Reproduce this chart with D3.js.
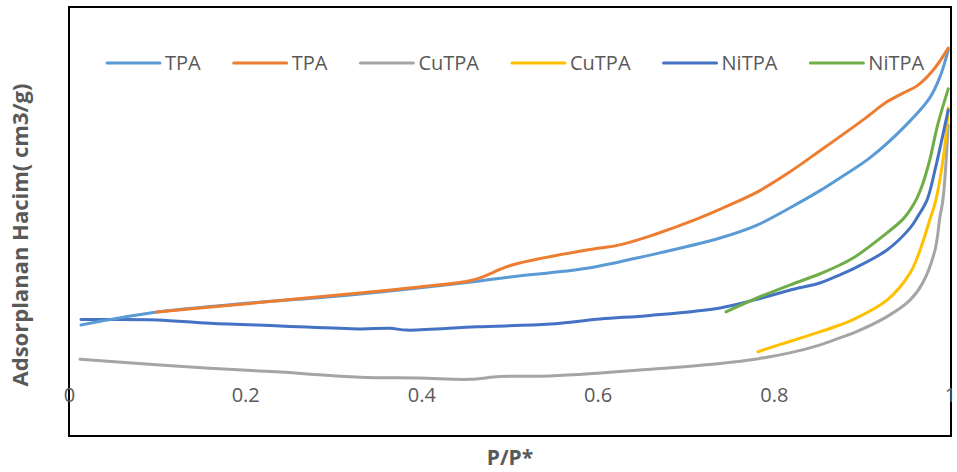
<!DOCTYPE html>
<html>
<head>
<meta charset="utf-8">
<script src="https://cdn.jsdelivr.net/npm/d3@7"></script>
<style>
  html, body { margin: 0; padding: 0; background: #fff; }
  svg { display: block; }
</style>
</head>
<body>
<svg id="chart" width="957" height="472"></svg>
<script>
// ---- Data ----
const seriesNames = ["TPA", "TPA", "CuTPA", "CuTPA", "NiTPA", "NiTPA"];
const seriesColors = ["#5B9BD5", "#ED7D31", "#A5A5A5", "#FFC000", "#4472C4", "#70AD47"];

// TPA (adsorption branch)
const tpaAdsP = [0.0136, 0.0999, 0.2054, 0.319, 0.4586, 0.503, 0.588, 0.6595, 0.739, 0.781, 0.818, 0.852, 0.875, 0.909, 0.947, 0.977, 0.989, 0.998];
const tpaAdsV = [25.0, 29.3, 32.3, 35.0, 39.4, 41.1, 43.9, 48.3, 54.0, 58.3, 64.0, 69.7, 74.0, 80.7, 90.7, 100.7, 108.0, 116.7];
// TPA (desorption branch)
const tpaDesP = [0.0999, 0.2054, 0.330, 0.398, 0.4586, 0.503, 0.588, 0.625, 0.663, 0.716, 0.742, 0.781, 0.818, 0.852, 0.901, 0.928, 0.9467, 0.9625, 0.981, 0.998];
const tpaDesV = [29.3, 32.2, 35.7, 37.7, 40.0, 45.0, 50.0, 51.7, 55.0, 60.7, 64.0, 69.3, 76.0, 83.0, 93.3, 99.3, 102.3, 104.7, 110.0, 117.3];
// CuTPA (adsorption branch)
const cuAdsP = [0.0125, 0.1033, 0.160, 0.2395, 0.330, 0.398, 0.455, 0.489, 0.546, 0.603, 0.648, 0.739, 0.781, 0.818, 0.852, 0.875, 0.890, 0.9285, 0.9546, 0.969, 0.983, 0.9886, 0.992, 0.998];
const cuAdsV = [13.6, 11.7, 10.6, 9.3, 7.6, 7.3, 6.9, 7.8, 8.0, 9.0, 10.0, 12.2, 13.7, 15.7, 18.3, 20.7, 22.3, 27.8, 33.3, 39.0, 50.0, 61.1, 66.7, 91.7];
// CuTPA (desorption branch)
const cuDesP = [0.782, 0.818, 0.852, 0.875, 0.890, 0.9285, 0.9546, 0.966, 0.977, 0.984, 0.994, 0.998];
const cuDesV = [16.1, 19.5, 22.7, 25.0, 26.8, 33.3, 42.3, 50.0, 60.0, 66.7, 84.3, 97.3];
// NiTPA (adsorption branch)
const niAdsP = [0.0136, 0.0999, 0.160, 0.2395, 0.330, 0.364, 0.3837, 0.463, 0.546, 0.603, 0.6595, 0.739, 0.781, 0.818, 0.852, 0.875, 0.890, 0.9285, 0.9546, 0.9637, 0.974, 0.983, 0.998];
const niAdsV = [26.8, 26.7, 25.6, 24.7, 23.7, 23.9, 23.3, 24.4, 25.3, 27.0, 28.2, 30.7, 33.6, 36.6, 39.0, 41.7, 43.7, 50.0, 57.3, 61.3, 66.7, 76.7, 96.7];
// NiTPA (desorption branch)
const niDesP = [0.7457, 0.781, 0.818, 0.852, 0.875, 0.890, 0.9285, 0.9467, 0.9546, 0.9625, 0.969, 0.977, 0.986, 0.998];
const niDesV = [29.4, 34.0, 38.3, 42.0, 45.0, 47.3, 55.7, 60.3, 63.3, 67.3, 72.0, 80.0, 91.7, 103.7];

const xTicks = [0, 0.2, 0.4, 0.6, 0.8, 1];
const xTitle = "P/P*";
const yTitle = "Adsorplanan Hacim( cm3/g)";

const seriesP = [tpaAdsP, tpaDesP, cuAdsP, cuDesP, niAdsP, niDesP];
const seriesV = [tpaAdsV, tpaDesV, cuAdsV, cuDesV, niAdsV, niDesV];

// ---- Drawing ----
const svg = d3.select("#chart");
const FONT = "'Open Sans', 'Noto Sans', sans-serif";
const TXT = "#595959";

const x = d3.scaleLinear().domain([0, 1]).range([69, 950]);
const y = d3.scaleLinear().domain([0, 120]).range([400, 40]);

// plot frame
svg.append("rect")
  .attr("x", 69).attr("y", 7)
  .attr("width", 882).attr("height", 429)
  .attr("fill", "none").attr("stroke", "#000").attr("stroke-width", 2);

// x axis (labels only)
const xAxis = d3.axisBottom(x).tickValues(xTicks).tickSize(0).tickPadding(3)
  .tickFormat(d => String(d));
const gx = svg.append("g").attr("transform", "translate(0,385)").call(xAxis);
gx.select(".domain").remove();
gx.selectAll("text").attr("fill", TXT).style("font-family", FONT).style("font-size", "20px");

// axis titles
svg.append("text")
  .attr("x", 510).attr("y", 465)
  .attr("text-anchor", "middle")
  .attr("fill", TXT).style("font-family", FONT).style("font-size", "21px").style("font-weight", "bold")
  .text(xTitle);

svg.append("text")
  .attr("transform", "translate(28,235) rotate(-90)")
  .attr("text-anchor", "middle")
  .attr("fill", TXT).style("font-family", FONT).style("font-size", "22px").style("font-weight", "bold")
  .text(yTitle);

// series
const line = d3.line().x(d => x(d[0])).y(d => y(d[1])).curve(d3.curveCatmullRom.alpha(0.5));
const lineOrder = [2, 3, 4, 5, 0, 1];
lineOrder.forEach(i => {
  const pts = seriesP[i].map((p, k) => [p, seriesV[i][k]]);
  svg.append("path")
    .datum(pts)
    .attr("d", line)
    .attr("fill", "none")
    .attr("stroke", seriesColors[i])
    .attr("stroke-width", 3)
    .attr("stroke-linejoin", "round")
    .attr("stroke-linecap", "round");
});

// legend
const legend = svg.append("g");
let lx = 107;
const ly = 63;
seriesNames.forEach((name, i) => {
  legend.append("line")
    .attr("x1", lx).attr("x2", lx + 53).attr("y1", ly).attr("y2", ly)
    .attr("stroke", seriesColors[i]).attr("stroke-width", 3).attr("stroke-linecap", "round");
  const t = legend.append("text")
    .attr("x", lx + 58).attr("y", ly + 7)
    .attr("fill", TXT).style("font-family", FONT).style("font-size", "20px")
    .text(name);
  lx += 53 + 5 + t.node().getComputedTextLength() + 33;
});
</script>
</body>
</html>
